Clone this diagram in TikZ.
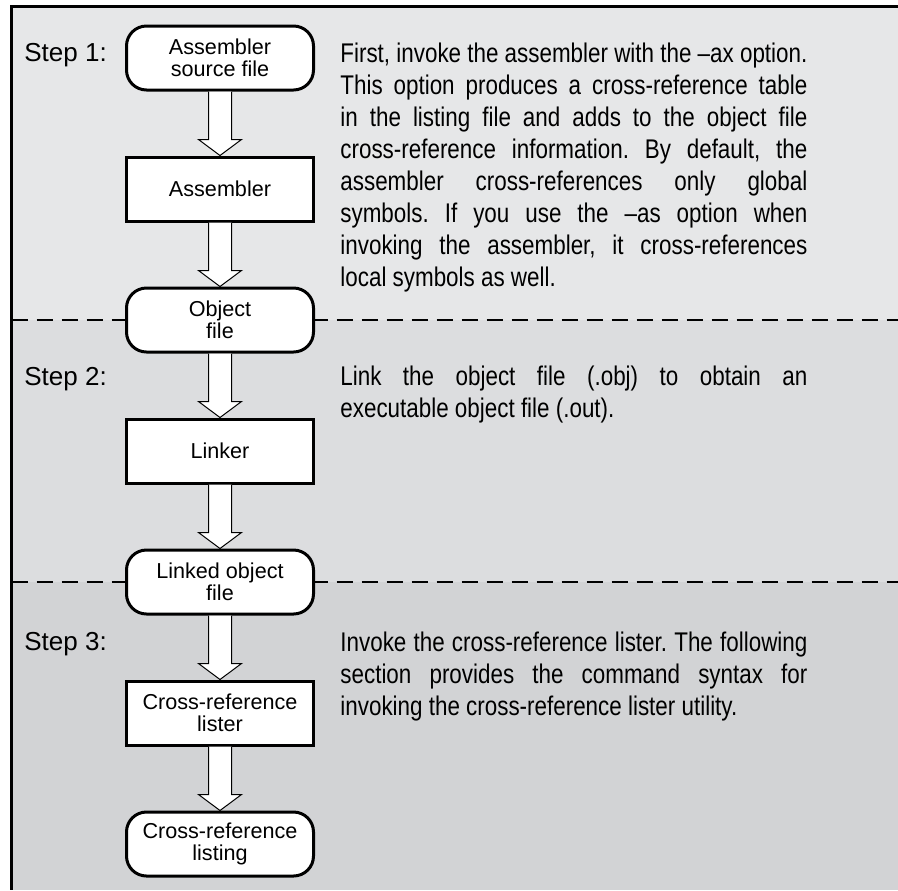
\documentclass[tikz,border=0pt]{standalone}
\usepackage{fontspec}
\setmainfont{Liberation Sans}
\newfontfamily\bodyfont[FakeStretch=0.83]{Liberation Sans}
\usetikzlibrary{shapes,positioning,calc,backgrounds}
\definecolor{stepone}{HTML}{E6E7E8}
\definecolor{steptwo}{HTML}{DCDDDF}
\definecolor{stepthree}{HTML}{D2D3D5}
\hyphenpenalty=10000
\exhyphenpenalty=10000
\frenchspacing
\newcommand{\flowarrow}[2]{%
  \draw[line width=0.5pt, fill=white] ($(#1.south)+(-5.75pt,0)$) -- ($(#2.north)+(-5.75pt,8pt)$) -- ++(-5pt,0) -- (#2.north) -- ++(10.75pt,8pt) -- ++(-5pt,0) -- ($(#1.south)+(5.75pt,0)$);}

\begin{document}
\begin{tikzpicture}[node distance=32pt,
    box/.style={draw, line width=1.5pt, fill=white, minimum width=93.5pt, minimum height=32pt, align=center, inner sep=2pt, font=\fontsize{10.8}{10.8}\selectfont},
    filebox/.style={box, rounded corners=10pt},
    steplabel/.style={anchor=north west, inner sep=0pt, font=\fontsize{13}{16}\selectfont},
    steptext/.style={steplabel, text width=233.5pt, align=justify, font=\bodyfont\fontsize{13.5}{16}\selectfont},
    sepline/.style={dash pattern=on 8pt off 4.5pt, line width=1pt}]
      \useasboundingbox (0,0) rectangle (449pt,-445pt);
      \coordinate (frameT) at (0,-3.25pt);
      \coordinate (frameB) at (0,-445pt);
      \coordinate (frameL) at (5.75pt,0);
      \coordinate (frameR) at (449pt,0);
      \node[filebox] (source) at (110pt,-29pt) {Assembler\\source file};
      \node[box, below=of source] (assembler) {Assembler};
      \node[filebox, below=of assembler] (object) {Object\\file};
      \node[box, below=of object] (linker) {Linker};
      \node[filebox, below=of linker] (linked) {Linked object\\file};
      \node[box, below=of linked] (lister) {Cross-reference\\lister};
      \node[filebox, below=of lister] (listing) {Cross-reference\\listing};
      \foreach \a/\b in {source/assembler, assembler/object, object/linker, linker/linked, linked/lister, lister/listing}
        \flowarrow{\a}{\b};
      \node[steplabel] (step1) at (12pt,-21.65pt) {Step 1:};
      \node[steptext] (text1) at (170pt,-21.4pt) {First, invoke the assembler with the –ax option.\linebreak
        This option produces a cross-reference table\linebreak
        in the listing file and adds to the object file\linebreak
        cross-reference information. By default, the\linebreak
        assembler cross-references only global\linebreak
        symbols. If you use the –as option when\linebreak
        invoking the assembler, it cross-references\linebreak
        local symbols as well.};
      \node[steplabel] (step2) at (12pt,-183.25pt) {Step 2:};
      \node[steptext] (text2) at (170pt,-183pt) {Link the object file (.obj) to obtain an\linebreak
        executable object file (.out).};
      \node[steplabel] (step3) at (12pt,-315.8pt) {Step 3:};
      \node[steptext] (text3) at (170pt,-315.6pt) {Invoke the cross-reference lister. The following\linebreak
        section provides the command syntax for\linebreak
        invoking the cross-reference lister utility.};
      \begin{scope}[on background layer]
        \fill[stepone] (frameL |- frameT) rectangle (frameR |- object);
        \fill[steptwo] (frameL |- object) rectangle (frameR |- linked);
        \fill[stepthree] (frameL |- linked) rectangle (frameR |- frameB);
        \draw[sepline] (frameL |- object) -- (frameR |- object);
        \draw[sepline] (frameL |- linked) -- (frameR |- linked);
        \draw[line width=1.5pt] (frameR |- frameT) -- (frameL |- frameT) -- (frameL |- frameB);
      \end{scope}
    \end{tikzpicture}
\end{document}
